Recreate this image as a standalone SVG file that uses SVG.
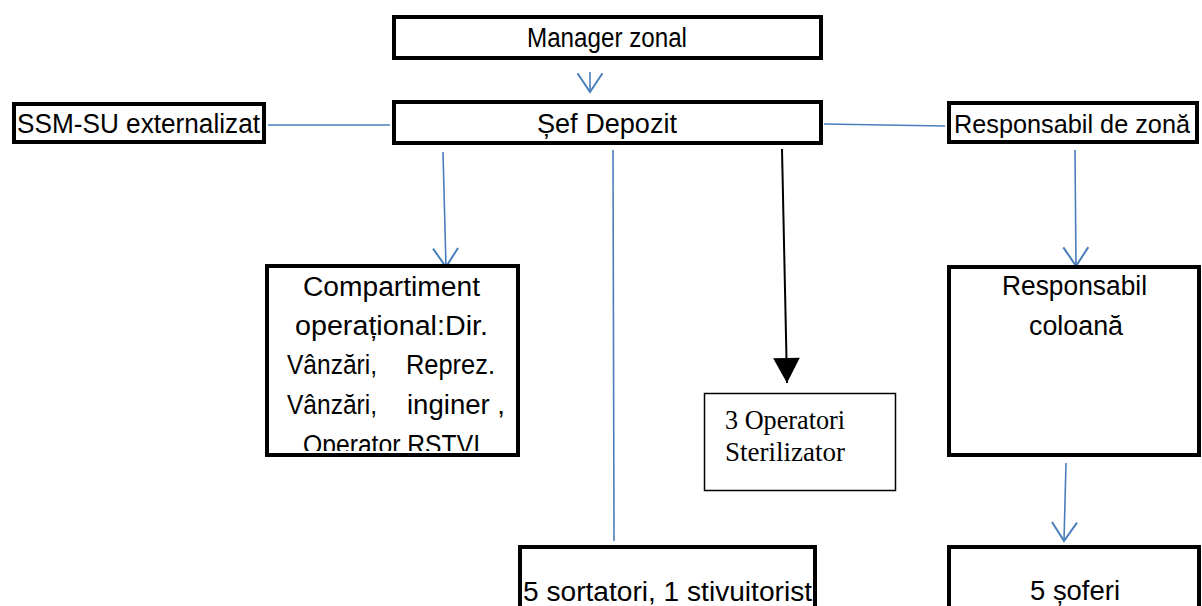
<svg xmlns="http://www.w3.org/2000/svg" width="1202" height="606" viewBox="0 0 1202 606">
<style>
.box{fill:#fff;stroke:#000;stroke-width:4}
.thin{fill:#fff;stroke:#000;stroke-width:1.5}
.t{font-family:"Liberation Sans",Arial,sans-serif;font-size:27px;fill:#000}
.s{font-family:"Liberation Serif","Times New Roman",serif;font-size:27px;fill:#000}
.c{stroke:#4a7ebb;stroke-width:1.6;fill:none}
.k{stroke:#000;stroke-width:2;fill:none}
</style>
<defs>
<marker id="open" markerUnits="userSpaceOnUse" orient="auto" markerWidth="30" markerHeight="30" refX="0" refY="0" viewBox="-16 -12 18 24" overflow="visible">
<path d="M-15,-10 L0,0 L-15,10" fill="none" stroke="#4a7ebb" stroke-width="1.6"/>
</marker>
<marker id="solid" markerUnits="userSpaceOnUse" orient="auto" markerWidth="30" markerHeight="30" refX="0" refY="0" viewBox="-16 -9 17 18" overflow="visible">
<path d="M-15,-8 L0,0 L-15,8 Z" fill="#000"/>
</marker>
<clipPath id="clipComp"><rect x="269" y="268" width="247" height="183"/></clipPath>
</defs>
<rect width="1202" height="606" fill="#fff"/>

<g id="connectors">
<line class="c" x1="590" y1="72" x2="590" y2="92" marker-end="url(#open)"/>
<line class="c" x1="268" y1="125" x2="390" y2="125"/>
<line class="c" x1="824" y1="124" x2="945" y2="126"/>
<line class="c" x1="443" y1="152" x2="446" y2="267" marker-end="url(#open)"/>
<line class="c" x1="613" y1="150" x2="614" y2="541"/>
<line class="k" x1="782" y1="149" x2="787" y2="383" marker-end="url(#solid)"/>
<line class="c" x1="1075" y1="150" x2="1076" y2="266" marker-end="url(#open)"/>
<line class="c" x1="1066" y1="463" x2="1064" y2="541" marker-end="url(#open)"/>
</g>

<g id="manager">
<rect class="box" x="394" y="17" width="427" height="41"/>
<text class="t" x="527" y="47" textLength="160" lengthAdjust="spacingAndGlyphs">Manager zonal</text>
</g>

<g id="sef">
<rect class="box" x="394" y="102" width="427" height="41"/>
<text class="t" x="537" y="133" textLength="140" lengthAdjust="spacingAndGlyphs">Șef Depozit</text>
</g>

<g id="ssm">
<rect class="box" x="14" y="104" width="250" height="38"/>
<text class="t" x="17" y="133" textLength="243" lengthAdjust="spacingAndGlyphs">SSM-SU externalizat</text>
</g>

<g id="resp-zona">
<rect class="box" x="949" y="103" width="248" height="39"/>
<text class="t" x="954" y="133" font-size="25" style="font-size:25px" textLength="236" lengthAdjust="spacingAndGlyphs">Responsabil de zonă</text>
</g>

<g id="compartiment">
<rect class="box" x="267" y="266" width="251" height="189"/>
<g clip-path="url(#clipComp)">
<text class="t" x="303" y="296" textLength="177" lengthAdjust="spacingAndGlyphs">Compartiment</text>
<text class="t" x="295" y="335" textLength="193" lengthAdjust="spacingAndGlyphs">operațional:Dir.</text>
<text class="t" x="287" y="374" textLength="90" lengthAdjust="spacingAndGlyphs">Vânzări,</text>
<text class="t" x="406" y="374" textLength="89" lengthAdjust="spacingAndGlyphs">Reprez.</text>
<text class="t" x="287" y="414" textLength="90" lengthAdjust="spacingAndGlyphs">Vânzări,</text>
<text class="t" x="407" y="414" textLength="98" lengthAdjust="spacingAndGlyphs">inginer ,</text>
<text class="t" x="303" y="454" textLength="177" lengthAdjust="spacingAndGlyphs">Operator RSTVI</text>
</g>
</g>

<g id="operatori">
<rect class="thin" x="704.5" y="393.5" width="191" height="97"/>
<text class="s" x="725" y="429" textLength="120" lengthAdjust="spacingAndGlyphs">3 Operatori</text>
<text class="s" x="725" y="461" textLength="120" lengthAdjust="spacingAndGlyphs">Sterilizator</text>
</g>

<g id="resp-coloana">
<rect class="box" x="949" y="267" width="250" height="188"/>
<text class="t" x="1002" y="295" textLength="145" lengthAdjust="spacingAndGlyphs">Responsabil</text>
<text class="t" x="1029" y="335" textLength="94" lengthAdjust="spacingAndGlyphs">coloană</text>
</g>

<g id="sortatori">
<rect class="box" x="520" y="547" width="295" height="80"/>
<text class="t" x="523" y="601" textLength="289" lengthAdjust="spacingAndGlyphs">5 sortatori, 1 stivuitorist</text>
</g>

<g id="soferi">
<rect class="box" x="949" y="547" width="250" height="80"/>
<text class="t" x="1030" y="600" textLength="90" lengthAdjust="spacingAndGlyphs">5 șoferi</text>
</g>
</svg>
